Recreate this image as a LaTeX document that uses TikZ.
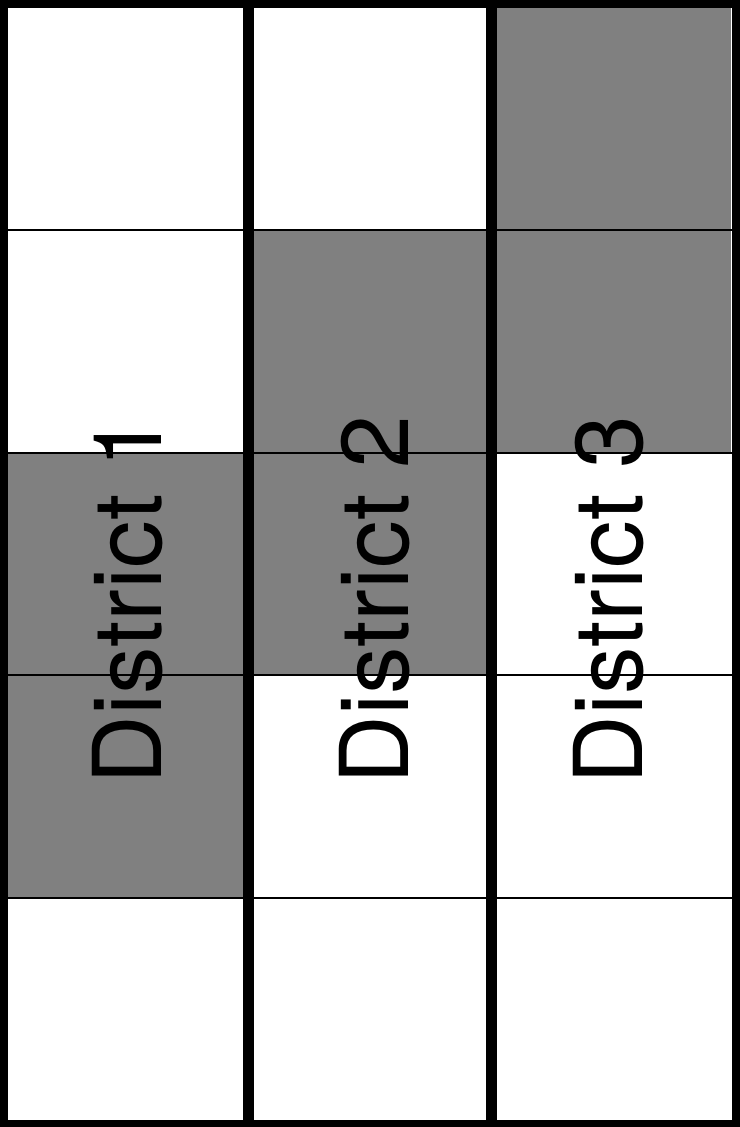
\documentclass[tikz,border=0pt]{standalone}
\usepackage{fontspec}
\setmainfont{TeX Gyre Heros}
\usepackage{tikz}
\usetikzlibrary{positioning}
\usepackage{xcolor}
\definecolor{cellgray}{RGB}{128, 128, 128}

\tikzset{
  districtlabel/.style={rotate=90, anchor=base west, inner sep=0pt,
    font=\fontsize{95}{95}\selectfont},
  rowline/.style={line width=2pt},
  districtline/.style={line width=11pt}
}

\begin{document}
\begin{tikzpicture}[x=1pt, y=-1pt]
        \useasboundingbox (0,0) rectangle (739,1127);

        % Grey cells
        \fill[cellgray] (8, 452.8) rectangle (248.5, 897.6);   % district 1
        \fill[cellgray] (248.5, 230.4) rectangle (491.5, 675.2); % district 2
        \fill[cellgray] (491.5, 8) rectangle (731, 452.8);     % district 3

        % Row lines
        \draw[rowline] (0, 230.4) -- (739, 230.4);
        \draw[rowline] (0, 452.8) -- (739, 452.8);
        \draw[rowline] (0, 675.2) -- (739, 675.2);
        \draw[rowline] (0, 897.6) -- (739, 897.6);

        % Labels
        \node[districtlabel] (d1) at (161, 784.5) {District 1};
        \node[districtlabel] (d2) at (408, 784.5) {District 2};
        \node[districtlabel] (d3) at (642, 784.5) {District 3};

        % District borders
        \draw[districtline] (248.5, 0) -- (248.5, 1127);
        \draw[districtline] (491.5, 0) -- (491.5, 1127);
        \draw[line width=15pt] (0,0) rectangle (739,1127);
      \end{tikzpicture}
\end{document}
